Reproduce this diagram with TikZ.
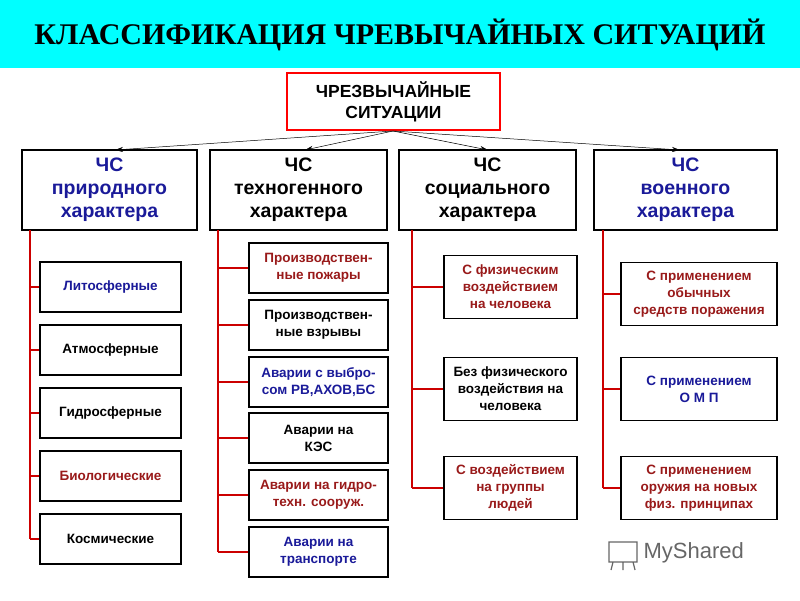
\documentclass[tikz,border=0pt]{standalone}
\usepackage{fontspec}
\setmainfont{Liberation Sans}
\newfontfamily\titlefont{Liberation Serif}
\usetikzlibrary{arrows.meta}
\definecolor{dblue}{HTML}{1A1A99}
\definecolor{dred}{HTML}{991A1A}
\definecolor{lred}{HTML}{CC0000}
\definecolor{cyanbg}{HTML}{00FFFF}
\begin{document}
\begin{tikzpicture}[x=1pt,y=-1pt,
  cat/.style={draw=black,line width=2.5pt,fill=white,align=center,font=\fontsize{19.5}{23}\selectfont\bfseries,inner sep=0pt},
  sub/.style={draw=black,line width=1.8pt,fill=white,align=center,font=\fontsize{13.5}{17}\selectfont\bfseries,inner sep=0pt},
  br/.style={draw=lred,line width=1.6pt},
  ar/.style={-{Stealth[length=8pt,width=5pt]},line width=0.5pt}]
\useasboundingbox (0,0) rectangle (800,600);
\fill[cyanbg] (0,0) rectangle (800,68);
\node[font=\titlefont\fontsize{30}{32}\selectfont\bfseries] (title) at (400,35) {КЛАССИФИКАЦИЯ ЧРЕВЫЧАЙНЫХ СИТУАЦИЙ};
\node[draw=red,line width=2pt,fill=white,minimum width=213pt,minimum height=57pt,align=center,font=\fontsize{17.5}{21}\selectfont\bfseries,inner sep=0pt] (top) at (393.5,101.5) {ЧРЕЗВЫЧАЙНЫЕ\\СИТУАЦИИ};
% categories
\node[cat,text=dblue,minimum width=175pt,minimum height=80pt] (c1) at (109.5,190) {ЧС\\природного\\характера};
\node[cat,minimum width=177pt,minimum height=80pt] (c2) at (298.5,190) {ЧС\\техногенного\\характера};
\node[cat,minimum width=177pt,minimum height=80pt] (c3) at (487.5,190) {ЧС\\социального\\характера};
\node[cat,text=dblue,minimum width=183pt,minimum height=80pt] (c4) at (685.5,190) {ЧС\\военного\\характера};
\coordinate (o) at (393,131);
\draw[ar] (o) -- (115,150);
\draw[ar] (o) -- (305,150);
\draw[ar] (o) -- (488,150);
\draw[ar] (o) -- (680,150);
% column 1
\coordinate (v1) at (30,230);
\draw[br] (v1) -- (30,539);
\foreach \n/\y/\c/\t in {a1/287/dblue/Литосферные,a2/350/black/Атмосферные,a3/413/black/Гидросферные,a4/476/dred/Биологические,a5/539/black/Космические}{
  \node[sub,text=\c,minimum width=141pt,minimum height=50pt] (\n) at (110.5,\y) {\t};
  \draw[br] (30,\y) -- (\n.west);
}
% column 2
\draw[br] (218,230) -- (218,552);
\foreach \n/\y/\c/\t in {b1/268/dred/{Производствен-\\ные пожары},b2/325/black/{Производствен-\\ные взрывы},b3/382/dblue/{Аварии с выбро-\\сом РВ,АХОВ,БС},b4/438/black/{Аварии на\\КЭС},b5/495/dred/{Аварии на гидро-\\техн. сооруж.},b6/552/dblue/{Аварии на\\транспорте}}{
  \node[sub,text=\c,minimum width=139pt,minimum height=50pt] (\n) at (318.5,\y) {\t};
  \draw[br] (218,\y) -- (\n.west);
}
% column 3
\draw[br] (412,230) -- (412,488);
\foreach \n/\y/\c/\t in {d1/287/dred/{С физическим\\воздействием\\на человека},d2/389/black/{Без физического\\воздействия на\\человека},d3/488/dred/{С воздействием\\на группы\\людей}}{
  \node[sub,text=\c,minimum width=133pt,minimum height=63pt] (\n) at (510.5,\y) {\t};
  \draw[br] (412,\y) -- (\n.west);
}
% column 4
\draw[br] (603,230) -- (603,488);
\foreach \n/\y/\c/\t in {e1/294/dred/{С применением\\обычных\\средств поражения},e2/389/dblue/{С применением\\О М П},e3/488/dred/{С применением\\оружия на новых\\физ. принципах}}{
  \node[sub,text=\c,minimum width=156pt,minimum height=63pt] (\n) at (699,\y) {\t};
  \draw[br] (603,\y) -- (\n.west);
}
% watermark
\node[text=gray!80!black,font=\fontsize{22}{24}\selectfont,anchor=west] (wm) at (640,553) {MyShared};
\draw[gray!80!black,line width=1.2pt] (609,542) rectangle (637,562) (613,562) -- (611,570) (623,562) -- (623,570) (633,562) -- (635,570);
\end{tikzpicture}
\end{document}
